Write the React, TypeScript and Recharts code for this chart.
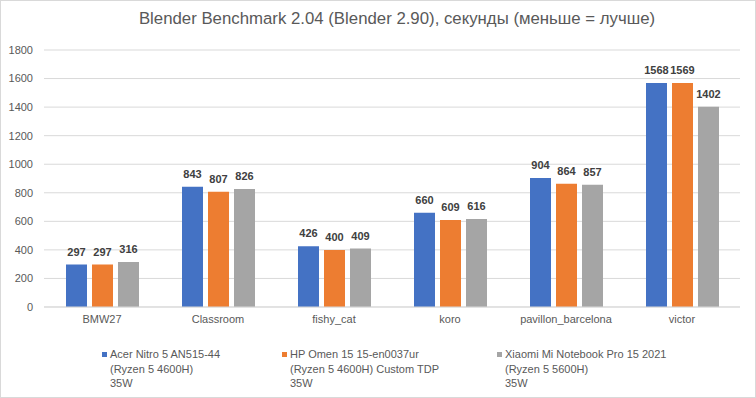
import React from 'react';
import { BarChart, Bar, XAxis, YAxis, CartesianGrid, LabelList } from 'recharts';

const categories = ['BMW27', 'Classroom', 'fishy_cat', 'koro', 'pavillon_barcelona', 'victor'];
const acerValues = [297, 843, 426, 660, 904, 1568];
const hpValues = [297, 807, 400, 609, 864, 1569];
const xiaomiValues = [316, 826, 409, 616, 857, 1402];
const yTicks = [0, 200, 400, 600, 800, 1000, 1200, 1400, 1600, 1800];
const title = 'Blender Benchmark 2.04 (Blender 2.90), секунды (меньше = лучше)';

const seriesKeys = ['acer', 'hp', 'xiaomi'];
const seriesColors = ['#4472C4', '#ED7D31', '#A5A5A5'];
const seriesLabels = [
  ['Acer Nitro 5 AN515-44', '(Ryzen 5 4600H)', '35W'],
  ['HP Omen 15 15-en0037ur', '(Ryzen 5 4600H) Custom TDP', '35W'],
  ['Xiaomi Mi Notebook Pro 15 2021', '(Ryzen 5 5600H)', '35W'],
];
const legendX = [102, 282, 497];

const data = categories.map((name, i) => ({
  name,
  acer: acerValues[i],
  hp: hpValues[i],
  xiaomi: xiaomiValues[i],
}));

const FONT = '"Liberation Sans", Arial, sans-serif';

export default function App() {
  return (
    <div style={{ position: 'absolute', left: 0, top: 0, width: 756, height: 398, background: '#fff', fontFamily: FONT }}>
      <BarChart
        width={756}
        height={398}
        data={data}
        margin={{ top: 50, right: 16, bottom: 61, left: 0 }}
        barSize={21}
        barGap={5}
      >
        <CartesianGrid vertical={false} stroke="#D9D9D9" />
        <XAxis
          dataKey="name"
          height={30}
          tickLine={false}
          axisLine={{ stroke: '#D9D9D9' }}
          tick={{ fontSize: 11, fill: '#595959', fontFamily: FONT }}
          tickMargin={2}
          interval={0}
        />
        <YAxis
          width={44}
          domain={[0, 1800]}
          ticks={yTicks}
          tickLine={false}
          axisLine={false}
          tickMargin={5}
          tick={{ fontSize: 11, fill: '#595959', fontFamily: FONT }}
        />
        {seriesKeys.map((k, i) => (
          <Bar key={k} dataKey={k} fill={seriesColors[i]} isAnimationActive={false}>
            <LabelList
              dataKey={k}
              position="top"
              offset={9}
              style={{ fontSize: 11, fontWeight: 'bold', fill: '#404040', fontFamily: FONT }}
            />
          </Bar>
        ))}
      </BarChart>
      <div
        style={{
          position: 'absolute',
          left: 0,
          top: 9,
          width: 794,
          textAlign: 'center',
          fontSize: 16.8,
          color: '#595959',
          whiteSpace: 'nowrap',
        }}
      >
        {title}
      </div>
      {seriesLabels.map((lines, i) => (
        <div key={i} style={{ position: 'absolute', left: legendX[i], top: 347 }}>
          <div
            style={{
              position: 'absolute',
              left: 0,
              top: 5,
              width: 5,
              height: 5,
              background: seriesColors[i],
            }}
          />
          <div style={{ position: 'absolute', left: 8, top: 0, fontSize: 11, lineHeight: '14.5px', color: '#595959', whiteSpace: 'nowrap' }}>
            {lines.map((l, j) => (
              <div key={j}>{l}</div>
            ))}
          </div>
        </div>
      ))}
      <div
        style={{
          position: 'absolute',
          left: 0,
          top: 0,
          width: 756,
          height: 398,
          boxSizing: 'border-box',
          border: '1px solid #D9D9D9',
          pointerEvents: 'none',
        }}
      />
    </div>
  );
}
